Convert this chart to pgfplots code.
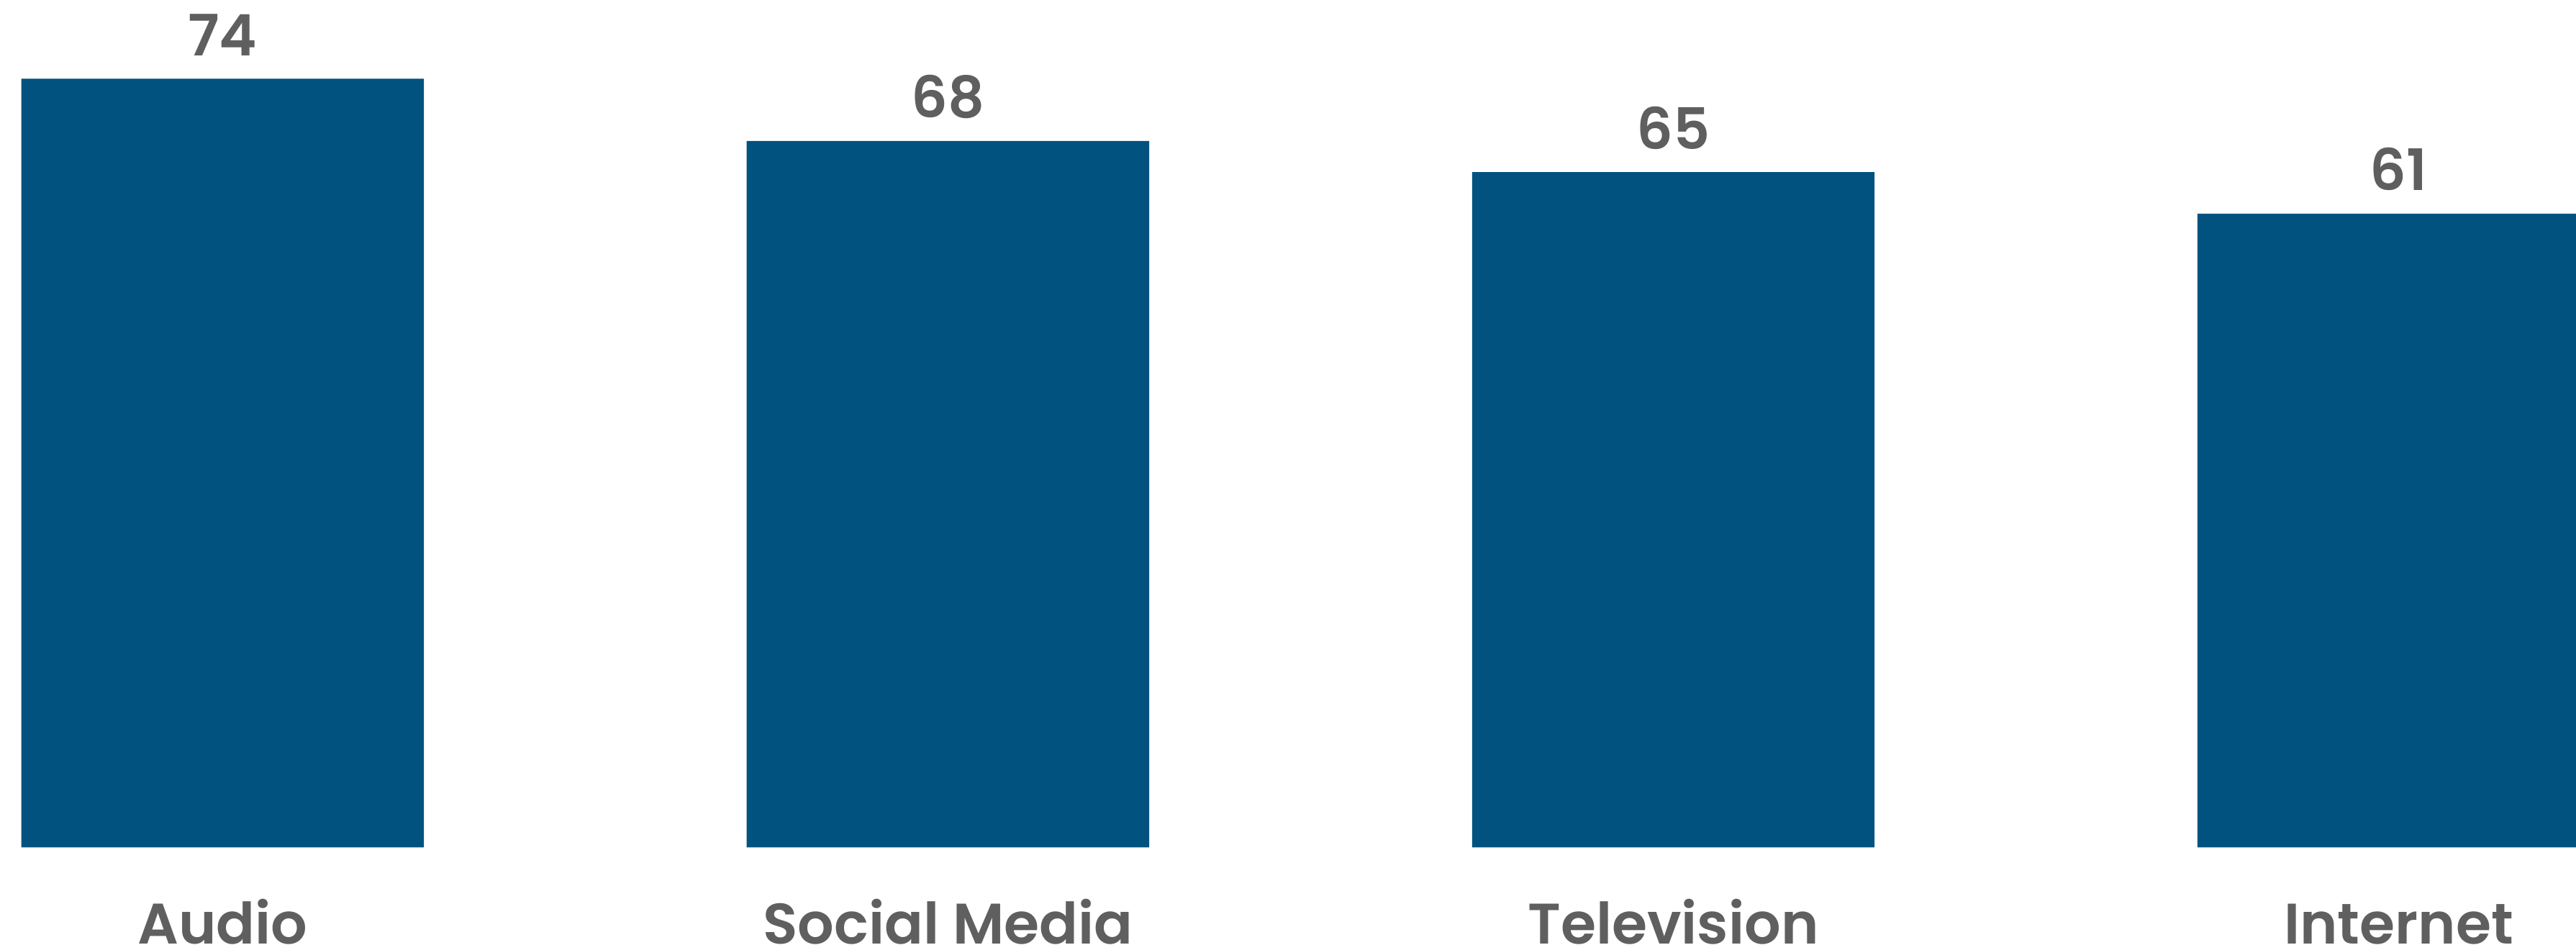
\documentclass[border=0pt]{standalone}
\usepackage{pgfplots}
\pgfplotsset{compat=1.18}
\usepackage{fontspec}
\setmainfont{Poppins SemiBold}
\definecolor{barblue}{RGB}{2,82,127}
\definecolor{txtgray}{RGB}{95,95,95}
\begin{document}
\begin{tikzpicture}
\begin{axis}[
  scale only axis,
  width=784pt, height=287.5pt,
  xmin=-0.3069, xmax=3.2446,
  ymin=-9.38, ymax=81.57,
  ybar, bar width=122.5pt,
  axis line style={draw=none},
  tick style={draw=none},
  ytick=\empty,
  xtick=data,
  xticklabels={Audio, Social Media, Television, Internet},
  xticklabel style={anchor=base, inner sep=0pt, yshift=4.5pt, font=\fontsize{17.4}{20}\selectfont, text=txtgray},
  /pgf/number format/assume math mode=true,
  nodes near coords,
  every node near coord/.append style={anchor=base, inner sep=0pt, yshift=7pt, font=\fontsize{17.4}{20}\selectfont, text=txtgray},
  clip=false,
]
\addplot[fill=barblue, draw=none] coordinates {(0,74) (1,68) (2,65) (3,61)};
\end{axis}
\pgfresetboundingbox
\useasboundingbox (current axis.south west) rectangle (current axis.north east);
\end{tikzpicture}
\end{document}
